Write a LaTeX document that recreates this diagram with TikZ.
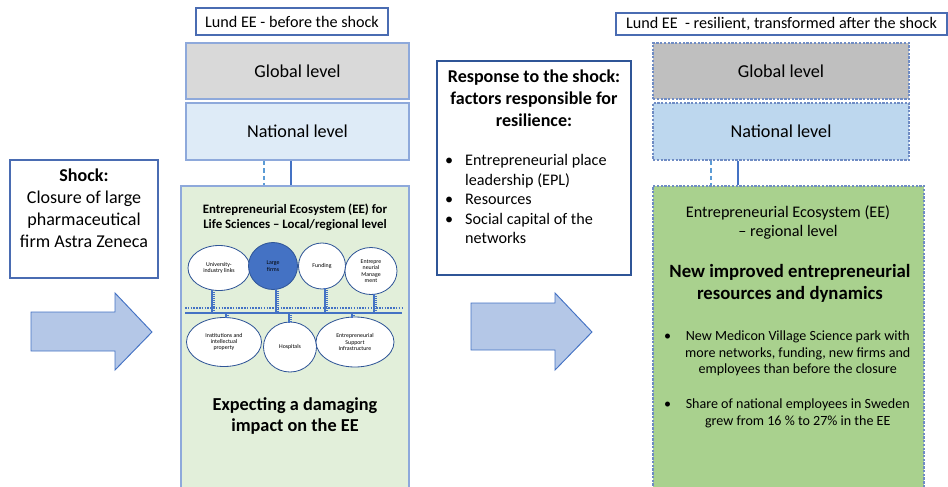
\documentclass[tikz,border=0pt]{standalone}
\usepackage{fontspec}
\setmainfont{Carlito}
\usetikzlibrary{calc, positioning, fit, shapes.geometric}

\definecolor{cEdge}{HTML}{4A6CB2}
\definecolor{cPale}{HTML}{8EA9DB}
\definecolor{cDash}{HTML}{6F8CC4}
\definecolor{cGlobOld}{HTML}{D9D9D9}
\definecolor{cNatOld}{HTML}{DEEBF7}
\definecolor{cEEOld}{HTML}{E2EFDA}
\definecolor{cGlobNew}{HTML}{BFBFBF}
\definecolor{cNatNew}{HTML}{BDD7EE}
\definecolor{cEENew}{HTML}{A9D18E}
\definecolor{cArrow}{HTML}{B4C7E7}
\definecolor{cLine}{HTML}{4472C4}
\definecolor{cLight}{HTML}{5B9BD5}
\definecolor{cDeep}{HTML}{2F5597}

\tikzset{
  tagbox/.style={draw=cEdge, line width=0.9pt, inner sep=0pt},
  tagtxt/.style={font=\fontsize{13.8}{16}\selectfont, inner sep=0pt},
  lvlbox/.style={draw=cPale, line width=0.9pt, inner sep=0pt},
  lvltxt/.style={font=\fontsize{15.5}{18}\selectfont, inner sep=0pt},
  newbox/.style={lvlbox, draw=cDash, dash pattern=on 2pt off 1.2pt},
  txtbox/.style={draw=cEdge, line width=0.9pt, inner sep=0pt},
  bub/.style={ellipse, draw=cDeep, line width=0.7pt, inner sep=0pt, align=center, font=\fontsize{5}{5.4}\selectfont},
  rung/.style={draw=cLine, line width=1.1pt},
  rungtick/.style={draw=cLine, line width=2.4pt, dash pattern=on 0.6pt off 1.1pt},
  blockarr/.style={draw=cLine, fill=cArrow, line width=0.8pt},
}

\begin{document}
\begin{tikzpicture}[x=0.3mm, y=-0.3mm]
\useasboundingbox (0,0) rectangle (948,486);

% before the shock
\node[tagbox, fit={(196,8) (388,35)}] (nTagOld) {};
\node[tagtxt] (nTagOldTxt) at (nTagOld.center) {Lund EE - before the shock};
\node[lvlbox, fill=cGlobOld, fit={(186,43) (409,99)}] (nGlobOld) {};
\node[lvltxt] (nGlobOldTxt) at (nGlobOld.center) {Global level};
\node[lvlbox, fill=cNatOld, fit={(186,103) (409,160)}] (nNatOld) {};
\node[lvltxt] (nNatOldTxt) at (nNatOld.center) {National level};
\node[lvlbox, fill=cEEOld, fit={(181,186) (409,490)}] (nEEOld) {};

\coordinate (cLinkA) at (264,0);
\coordinate (cLinkB) at (291,0);
\draw[cLight, line width=1pt, dash pattern=on 4pt off 2.5pt] (nNatOld.south -| cLinkA) -- (nEEOld.north -| cLinkA);
\draw[cLine, line width=1pt] (nNatOld.south -| cLinkB) -- (nEEOld.north -| cLinkB);

\node[align=center, font=\bfseries\fontsize{11}{12.8}\selectfont] (nEEOldTitle) at (295,217)
  {Entrepreneurial Ecosystem (EE) for\\Life Sciences – Local/regional level};

\foreach \n/\cx/\cy/\w/\h/\f/\t in {
    nUni/219/268/62/45/white/{University-\\industry links},
    nFirm/273/266/49/47/cLine/{Large\\firms},
    nFund/322/266/47/46/white/{Funding},
    nMgmt/371/271/52/47/white/{Entrepre\\neurial\\Manage\\ment},
    nInst/224/342/75/49/white/{Institutions and\\intellectual\\property},
    nHosp/290/347/53/50/white/{Hospitals},
    nSupp/355/342/78/50/white/{Entrepreneurial\\Support\\Infrastructure}}
{
    \node[bub, fill=\f, minimum width=\w*0.3mm, minimum height=\h*0.3mm] (\n) at (\cx,\cy) {\t};
}

\coordinate (cBusL) at (185,313);
\coordinate (cBusR) at (402,313);
\coordinate (cDotL) at (185,308);
\coordinate (cDotR) at (403,308);

\foreach \n/\d in {nUni/-7, nFirm/3, nFund/3, nMgmt/3}
{
    \coordinate (cTop) at ($(\n.south)+(\d,-1)$);
    \draw[rung] (cTop) -- (cTop |- cBusL);
    \draw[rungtick] ($(cTop)+(2,2)$) -- ($(cTop |- cBusL)+(2,0)$);
}
\foreach \n/\d in {nInst/2, nHosp/-1, nSupp/-3}
{
    \coordinate (cBot) at ($(\n.north)+(\d,1)$);
    \draw[rung] (cBot |- cBusL) -- (cBot);
    \draw[rungtick] ($(cBot |- cBusL)+(2,0)$) -- ($(cBot)+(2,-1)$);
}
\draw[cLine, line width=1.2pt] (cBusL) -- (cBusR);
\draw[cLine, line width=1.6pt, dash pattern=on 1.3pt off 1.1pt] (cDotL) -- (cDotR);

\node[align=center, font=\bfseries\fontsize{15.6}{18}\selectfont] (nDamage) at (295,416)
  {Expecting a damaging\\impact on the EE};

% shock and response
\node[txtbox, fit={(10,160) (158,278)}] (nShock) {};
\node[align=center, font=\fontsize{15.4}{18.8}\selectfont] (nShockTxt) at (84,208)
  {\textbf{Shock:}\\Closure of large\\pharmaceutical\\firm Astra Zeneca};

\node[txtbox, draw=cDeep, fit={(437,61) (631,275)}] (nResp) {};
\node[align=center, font=\bfseries\fontsize{15.4}{18.8}\selectfont] (nRespTitle) at (534,98)
  {Response to the shock:\\factors responsible for\\resilience:};
\node[anchor=north west, inner sep=0pt, font=\fontsize{13.8}{16.6}\selectfont] (nRespList) at (445,152)
  {\begin{tabular}{@{}p{6mm}@{}l@{}}
   \textbullet & Entrepreneurial place\\
               & leadership (EPL)\\
   \textbullet & Resources\\
   \textbullet & Social capital of the\\
               & networks
   \end{tabular}};

\foreach \ax/\sa/\sb in {31/312/351, 471/303/350}
{
    \filldraw[blockarr] (\ax,\sa) -- (\ax+84,\sa) -- (\ax+84,293) -- (\ax+121,332)
      -- (\ax+84,370) -- (\ax+84,\sb) -- (\ax,\sb) -- cycle;
}

% after the shock
\node[tagbox, fit={(616,13) (947,35)}] (nTagNew) {};
\node[tagtxt] (nTagNewTxt) at (nTagNew.center) {Lund EE\ \ - resilient, transformed after the shock};
\node[newbox, fill=cGlobNew, fit={(653,43) (909,99)}] (nGlobNew) {};
\node[lvltxt] (nGlobNewTxt) at (nGlobNew.center) {Global level};
\node[newbox, fill=cNatNew, fit={(653,103) (909,160)}] (nNatNew) {};
\node[lvltxt] (nNatNewTxt) at (nNatNew.center) {National level};
\node[newbox, fill=cEENew, fit={(653,186) (924,490)}] (nEENew) {};

\coordinate (cLinkC) at (711,0);
\coordinate (cLinkD) at (738,0);
\draw[cLight, line width=1pt, dash pattern=on 4pt off 2.5pt] (nNatNew.south -| cLinkC) -- (nEENew.north -| cLinkC);
\draw[cLine, line width=1pt] (nNatNew.south -| cLinkD) -- (nEENew.north -| cLinkD);

\node[align=center, font=\fontsize{13.8}{16.2}\selectfont] (nEENewTitle) at (788,222)
  {Entrepreneurial Ecosystem (EE)\\– regional level};
\node[align=center, font=\bfseries\fontsize{16}{18.8}\selectfont] (nEENewHead) at (790,283)
  {New improved entrepreneurial\\resources and dynamics};
\node[anchor=north west, inner sep=0pt, font=\fontsize{12}{14}\selectfont] (nEENewList) at (664,329)
  {\begin{tabular}{@{}p{6.3mm}@{}c@{}}
   \textbullet & New Medicon Village Science park with\\
               & more networks, funding, new firms and\\
               & employees than before the closure\\[16pt]
   \textbullet & Share of national employees in Sweden\\
               & grew from 16 \% to 27\% in the EE
   \end{tabular}};

\end{tikzpicture}
\end{document}
